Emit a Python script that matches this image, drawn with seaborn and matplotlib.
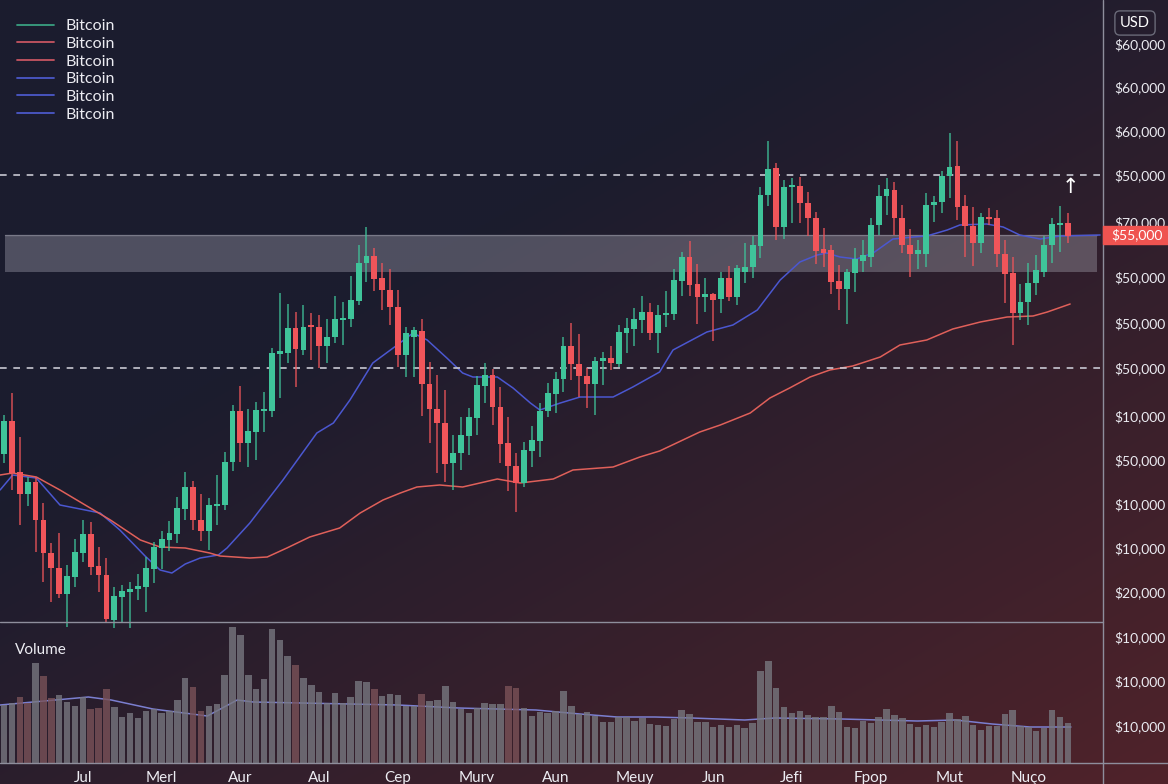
import numpy as np
import matplotlib
matplotlib.use("Agg")
import matplotlib.pyplot as plt
import seaborn as sns
from matplotlib.lines import Line2D
from matplotlib.patches import Rectangle

# --- DATA ---
opens = [24600, 27900, 22800, 20600, 21800, 18000, 14700, 13200, 10600, 12300,
         14700, 16600, 13400, 12500, 8000, 10300, 10800, 11100, 11300, 13100,
         15200, 16000, 16600, 19100, 21300, 18000, 16900, 19400, 19500, 23800,
         28900, 25700, 26800, 28900, 28900, 34600, 34700, 37200, 35000, 37500,
         37300, 35400, 36300, 38000, 38100, 39900, 43700, 44400, 42200, 41000,
         39300, 34500, 36300, 36900, 31600, 29100, 27700, 23700, 24700, 26400,
         28200, 31400, 32500, 29300, 25700, 23400, 21700, 24900, 25900, 28900,
         30600, 32100, 35400, 33600, 32400, 31600, 33900, 34200, 33600, 36700,
         37100, 38000, 38800, 36700, 38500, 38600, 41900, 44300, 41600, 40300,
         40600, 40100, 42200, 40300, 42800, 43300, 45400, 50500, 53200, 47300,
         51300, 51400, 49700, 48200, 45100, 45000, 41900, 41100, 42700, 43900,
         44300, 47500, 50400, 51000, 48200, 45500, 44600, 44600, 49500, 49800,
         52400, 53400, 49400, 47400, 45700, 48300, 48200, 44600, 42700, 38700,
         39800, 41700, 42800, 45500, 47500, 47700]
highs = [28500, 30700, 26300, 22300, 22300, 19700, 15700, 16700, 13500, 16100,
         18000, 17800, 15300, 14200, 11300, 11500, 11800, 12600, 14300, 15800,
         16900, 17900, 20300, 22800, 21900, 20600, 20200, 22500, 24800, 29500,
         31400, 29100, 29800, 30800, 35200, 40700, 39600, 38800, 39500, 38700,
         38500, 38100, 40400, 39800, 42400, 45500, 47300, 45200, 43700, 43100,
         41000, 37300, 37300, 38100, 33800, 32500, 31000, 26500, 28300, 29200,
         32400, 33700, 33100, 31300, 28300, 24700, 25800, 27400, 29700, 31700,
         32800, 36300, 37700, 36600, 33200, 34300, 34800, 35400, 37500, 38200,
         39200, 40400, 39700, 39500, 40900, 43100, 44800, 45900, 43600, 42200,
         40700, 42800, 43400, 43500, 45700, 46400, 51300, 55900, 53700, 52000,
         52200, 52300, 50800, 48800, 47200, 45500, 43500, 43100, 45200, 46000,
         48200, 51500, 52200, 51800, 49500, 47100, 46000, 50700, 50400, 52900,
         56700, 55900, 50500, 49300, 48700, 49200, 49000, 46000, 44300, 41600,
         43700, 44500, 46400, 48200, 49400, 48700]
lows = [23700, 21000, 17500, 19400, 14800, 11800, 9800, 10200, 7300, 11300,
        13800, 12500, 10800, 7700, 7200, 7800, 7200, 10000, 8800, 11700,
        13100, 14900, 15700, 18000, 17000, 15900, 15000, 17500, 19000, 22900,
        23800, 23300, 24000, 26800, 28300, 30200, 33700, 31300, 34500, 34000,
        33200, 33700, 35700, 35500, 37300, 39500, 41800, 40900, 39000, 37500,
        33300, 32300, 32300, 28400, 25700, 22700, 21800, 21000, 23000, 24500,
        26500, 29700, 27500, 23700, 20900, 18800, 21300, 23300, 24300, 28300,
        28700, 30800, 32000, 30300, 29200, 28500, 31500, 33000, 33300, 34700,
        35400, 36700, 36000, 34700, 37300, 38000, 40400, 40400, 37600, 38800,
        35900, 38700, 39900, 39500, 41700, 42200, 44200, 49400, 46000, 46100,
        47700, 47700, 46400, 43600, 43300, 40600, 39000, 37600, 40800, 42800,
        43300, 46500, 48500, 46500, 44700, 42300, 43100, 43300, 47800, 48700,
        50200, 48000, 44300, 43400, 44700, 47500, 43300, 39700, 35500, 38000,
        37500, 40500, 42300, 43700, 44800, 45700]
closes = [27900, 22700, 20600, 21800, 18000, 14700, 13200, 10600, 12400, 14800,
          16600, 13300, 12500, 8100, 10400, 10900, 11100, 11400, 13200, 15300,
          16100, 16700, 19200, 21300, 18000, 16900, 19500, 19600, 23800, 28900,
          25700, 26900, 29000, 29100, 34700, 34900, 37200, 35100, 37300, 37300,
          35400, 36300, 38100, 38200, 40000, 43700, 44400, 42100, 41000, 39300,
          34500, 36700, 37000, 31600, 29100, 27700, 23600, 24700, 26500, 28300,
          31500, 32500, 29300, 25600, 23400, 21700, 25000, 26000, 28900, 30700,
          32100, 35400, 33600, 32400, 31600, 33900, 34200, 33700, 36800, 37200,
          38100, 38800, 36700, 38500, 38700, 42000, 44300, 41500, 40300, 40600,
          40000, 42200, 40300, 43200, 43300, 45500, 50500, 53100, 47300, 51300,
          51400, 49700, 48200, 44900, 44700, 41800, 41100, 42800, 44100, 44500,
          47500, 50400, 51100, 48200, 45500, 44600, 45000, 49500, 49800, 52400,
          53300, 49300, 47400, 45700, 48300, 48100, 44600, 42600, 38700, 39800,
          41700, 43000, 45500, 47600, 47700, 46400]
volumes = [58, 60, 66, 60, 100, 87, 65, 68, 61, 57,
           66, 54, 55, 74, 56, 46, 50, 45, 52, 54,
           50, 52, 63, 85, 76, 52, 57, 59, 88, 136,
           128, 88, 74, 84, 134, 123, 107, 98, 85, 78,
           71, 60, 70, 60, 66, 82, 81, 74, 67, 69,
           68, 57, 57, 69, 62, 63, 77, 61, 54, 50,
           55, 60, 59, 59, 77, 75, 55, 47, 51, 50,
           52, 72, 57, 49, 51, 47, 41, 41, 46, 46,
           42, 45, 39, 38, 37, 44, 53, 49, 41, 41,
           36, 38, 36, 38, 35, 40, 92, 102, 75, 56,
           50, 52, 48, 46, 46, 57, 51, 36, 35, 42,
           40, 46, 54, 48, 45, 39, 36, 38, 36, 41,
           50, 44, 47, 38, 33, 37, 37, 49, 53, 37,
           36, 32, 35, 53, 46, 40]
red_volume_bars = [2, 3, 5, 6, 11, 12, 13, 24, 25, 37, 47, 53, 64, 65]

# moving averages, sampled along the candle index
ma_fast_x = [-0.5, 1.1, 4.1, 7.1, 10.3, 12.2, 14.7, 17.9, 19.8, 21.3, 23.0, 24.9,
             27.2, 28.3, 31.2, 35.4, 39.7, 41.8, 43.9, 46.8, 49.9, 51.9, 53.7,
             56.2, 58.2, 59.5, 62.6, 64.6, 66.8, 68.0, 70.6, 73.1, 77.3, 79.8,
             83.2, 84.9, 89.2, 92.5, 95.6, 98.5, 101.0, 103.2, 104.4, 106.1,
             108.2, 110.3, 112.8, 115.4, 117.1, 119.7, 121.3, 124.7, 126.8,
             128.9, 131.5, 134.0, 139.1]
ma_fast_y = [21000, 22500, 22200, 19500, 19000, 18700, 17000, 14400, 13000, 12700,
             13600, 14200, 14500, 15200, 17700, 22000, 26700, 27700, 30000, 33700,
             35500, 36700, 36000, 34200, 32700, 32300, 32300, 31200, 29700, 29000,
             29700, 30300, 30300, 31300, 32800, 35000, 36800, 37500, 39000, 42000,
             43800, 44500, 44700, 44300, 44100, 44700, 46100, 46300, 46400, 47000,
             47500, 47600, 47300, 46500, 46100, 46400, 46500]
ma_slow_x = [-0.5, 1.1, 4.1, 7.1, 10.3, 13.5, 17.3, 19.8, 23.0, 26.1, 27.4, 31.2,
             33.4, 35.9, 38.8, 42.6, 45.2, 48.1, 50.3, 52.4, 55.3, 58.2, 62.6,
             65.5, 69.7, 72.2, 77.3, 80.7, 83.2, 88.3, 90.9, 94.7, 97.2, 99.7,
             102.3, 104.8, 107.7, 111.2, 113.7, 117.1, 120.4, 123.9, 127.3,
             130.6, 132.4, 135.3]
ma_slow_y = [22500, 22700, 22300, 21000, 19500, 18000, 16000, 15300, 15200, 14700,
             14400, 14200, 14300, 15200, 16300, 17200, 18700, 20000, 20700, 21300,
             21500, 21300, 22100, 21700, 22100, 23000, 23300, 24300, 24900, 26800,
             27500, 28700, 30200, 31200, 32300, 33000, 33400, 34300, 35500, 36000,
             37100, 37800, 38300, 38400, 38800, 39600]
vol_ma_x = [-0.5, 10.7, 13.6, 18.9, 25.8, 29.6, 31.6, 50.0, 57.7, 67.5, 73.1,
            77.8, 82.6, 87.3, 94.0, 97.8, 106.3, 115.9, 120.7, 125.4, 130.2, 135.4]
vol_ma_y = [58, 66, 63, 54, 47, 63, 61, 58, 55, 53, 49, 46, 46, 45, 43, 45, 44,
            42, 43, 39, 36, 36]

resistance = 52500
support = 33200
zone_low, zone_high = 42800, 46500
last_price_label = "$55,000"

price_ticks = [65600, 61300, 56900, 52500, 47800, 42300, 37700, 33200, 28400,
               24000, 19600, 15200, 10800]
price_tick_labels = ["$60,000", "$60,000", "$60,000", "$50,000", "$70,000",
                     "$50,000", "$50,000", "$50,000", "$10,000", "$50,000",
                     "$10,000", "$10,000", "$20,000"]
vol_ticks = [126, 82, 37]
vol_tick_labels = ["$10,000", "$10,000", "$10,000"]
month_ticks = [10, 20, 30, 40, 50, 60, 70, 80, 90, 100, 110, 120, 130]
month_labels = ["Jul", "Merl", "Aur", "Aul", "Cep", "Murv", "Aun", "Meuy", "Jun",
                "Jefi", "Fpop", "Mut", "Nuço"]
legend_labels = ["Bitcoin"] * 6
legend_colors = ["#3a9f80", "#c75562", "#c75562", "#4b58c8", "#4b58c8", "#4b58c8"]

# --- STYLE ---
GREEN = "#3fc49a"
RED = "#f0555a"
TXT = "#ececf2"
sns.set_theme(style="dark")
plt.rcParams["font.family"] = ["Lato", "DejaVu Sans"]

W, H = 1168, 784
fig = plt.figure(figsize=(W / 100, H / 100), dpi=100)

# background gradient navy -> maroon
yy, xx = np.mgrid[0:1:392j, 0:1:584j]
t = np.clip((0.6 * xx + 0.7 * yy - 0.45) / 0.85, 0, 1)[..., None]
navy = np.array([27, 28, 46]) / 255
maroon = np.array([80, 35, 42]) / 255
bg = fig.add_axes([0, 0, 1, 1], zorder=-10)
bg.imshow(navy * (1 - t) + maroon * t, aspect="auto", extent=[0, 1, 0, 1])
bg.axis("off")

axis_x = 1103
ax = fig.add_axes([0, 1 - 622 / H, axis_x / W, 622 / H])
vax = fig.add_axes([0, 1 - 763 / H, axis_x / W, 141 / H])
xlim = (-0.51, 139.47)
for a in (ax, vax):
    a.set_facecolor("none")
    for s in a.spines.values():
        s.set_visible(False)
    a.set_xlim(*xlim)
    a.yaxis.tick_right()
    a.tick_params(axis="y", length=0, pad=8, labelsize=10, labelcolor=TXT)
    a.tick_params(axis="x", length=0, labelsize=11, labelcolor=TXT, pad=6)
    a.grid(False)

# --- candles ---
idx = np.arange(len(opens))
o = np.array(opens)
c = np.array(closes)
up = c >= o
cols = np.where(up, GREEN, RED)
ax.vlines(idx, lows, highs, colors=cols, lw=1.1, alpha=0.85, zorder=3,
          clip_on=False)
body = np.maximum(np.abs(c - o), 180)
ax.bar(idx, body, bottom=np.minimum(o, c), width=0.74, color=cols, zorder=4,
       linewidth=0)

sns.lineplot(x=ma_fast_x, y=ma_fast_y, ax=ax, color="#4b57d0", lw=1.1, zorder=2,
             estimator=None)
sns.lineplot(x=ma_slow_x, y=ma_slow_y, ax=ax, color="#e0605a", lw=1.1, zorder=2,
             estimator=None)

ax.axhspan(zone_low, zone_high, xmin=5 / axis_x, xmax=1097 / axis_x,
           color="#c8c8d4", alpha=0.3, lw=0, zorder=1)
ax.axhline(zone_high, xmin=5 / axis_x, xmax=1097 / axis_x, color="#c8c8d4",
           alpha=0.35, lw=1, zorder=1)
for lvl in (resistance, support):
    ax.axhline(lvl, color="#c8c8d2", lw=1.2, ls=(0, (4, 4)), zorder=2)
ax.text(135.3, 51300, "\u2191", color="white", fontsize=15, ha="center",
        va="center", zorder=6, family="DejaVu Sans")

ax.set_ylim(7800, 70000)
ax.set_yticks(price_ticks, price_tick_labels)
ax.set_xticks([])

# --- volume ---
vcols = ["#7a5258" if i in red_volume_bars else "#77777f" for i in idx]
vax.bar(idx, volumes, width=0.82, color=vcols, alpha=0.8, linewidth=0, zorder=3)
sns.lineplot(x=vol_ma_x, y=vol_ma_y, ax=vax, color="#7b7fd0", lw=1.1, zorder=2,
             estimator=None)
vax.set_ylim(0, 141)
vax.set_yticks(vol_ticks, vol_tick_labels)
vax.set_xticks(month_ticks, month_labels)
vax.text(15 / axis_x, 0.8, "Volume", transform=vax.transAxes, color=TXT,
         fontsize=11, ha="left", va="center")

# frame lines
line_c = "#8e8e9c"
fig.add_artist(Line2D([axis_x / W] * 2, [0, 1], color=line_c, lw=1))
fig.add_artist(Line2D([0, axis_x / W], [1 - 622 / H] * 2, color=line_c, lw=1))
fig.add_artist(Line2D([0, 1], [1 - 763 / H] * 2, color=line_c, lw=1))

# last price tag
fig.add_artist(Rectangle((axis_x / W, 1 - 244 / H), 65 / W, 18 / H,
                         transform=fig.transFigure, color="#ef5350", zorder=5))
fig.text(1111 / W, 1 - 235 / H, last_price_label, color="white", fontsize=10,
         ha="left", va="center", zorder=6)
fig.text(1135 / W, 1 - 23 / H, "USD", color="white", fontsize=10.5, ha="center",
         va="center", bbox=dict(boxstyle="round,pad=0.35", fc="none",
                                ec="#6a6a78", lw=1))

handles = [Line2D([], [], color=col, lw=1.3) for col in legend_colors]
fig.legend(handles, legend_labels, loc="upper left",
           bbox_to_anchor=(17 / W, 1 - 19 / H), frameon=False, fontsize=11.5,
           handlelength=2.3, handletextpad=0.75, labelspacing=0.22,
           borderpad=0, borderaxespad=0, labelcolor=TXT)

fig.savefig("out.png", dpi=100)
